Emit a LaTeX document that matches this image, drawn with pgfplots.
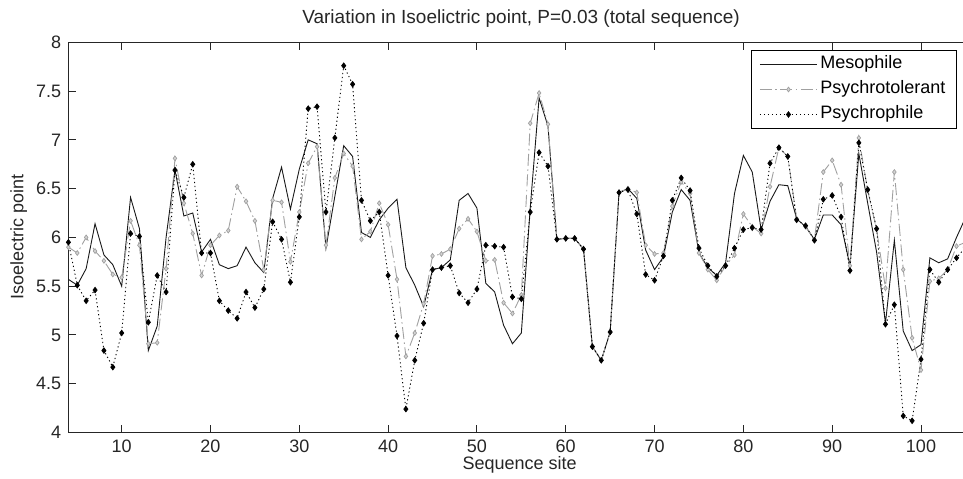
\documentclass[border=0pt]{standalone}
\usepackage{fontspec}
\setmainfont{Liberation Sans}
\usepackage{pgfplots}
\usepackage{pgfplotstable}
\pgfplotsset{compat=1.18}
\usetikzlibrary{calc}
\definecolor{axgray}{HTML}{262626}
\definecolor{tolgray}{HTML}{A0A0A0}
\newcommand{\chartfont}{\fontsize{18bp}{21bp}\selectfont}

% site, mesophile, psychrotolerant, psychrophile
\pgfplotstableread{
x meso tol phil
4 5.57 5.90 5.95
5 5.51 5.84 5.51
6 5.68 6.00 5.35
7 6.14 5.86 5.46
8 5.82 5.76 4.84
9 5.72 5.62 4.67
10 5.50 5.59 5.02
11 6.41 6.17 6.04
12 6.09 5.92 6.01
13 4.84 4.91 5.13
14 5.09 4.92 5.61
15 6.00 5.68 5.44
16 6.69 6.81 6.69
17 6.22 6.35 6.41
18 6.25 6.04 6.75
19 5.85 5.61 5.84
20 5.98 5.92 5.84
21 5.72 6.02 5.35
22 5.68 6.07 5.25
23 5.71 6.52 5.17
24 5.90 6.37 5.44
25 5.74 6.17 5.28
26 5.64 5.67 5.47
27 6.40 6.38 6.16
28 6.72 6.36 5.98
29 6.29 5.75 5.54
30 6.70 6.26 6.21
31 7.00 6.76 7.32
32 6.96 6.93 7.34
33 5.89 5.92 6.26
34 6.42 6.61 7.02
35 6.94 6.86 7.76
36 6.83 6.73 7.57
37 6.05 5.98 6.38
38 6.00 6.06 6.17
39 6.18 6.35 6.26
40 6.30 6.13 5.61
41 6.39 5.57 4.99
42 5.69 4.78 4.24
43 5.51 5.02 4.74
44 5.29 5.32 5.12
45 5.67 5.81 5.67
46 5.69 5.83 5.69
47 5.77 5.88 5.71
48 6.38 6.09 5.43
49 6.45 6.19 5.33
50 6.30 6.06 5.47
51 5.53 5.76 5.92
52 5.44 5.77 5.91
53 5.10 5.33 5.90
54 4.91 5.22 5.39
55 5.02 5.41 5.37
56 6.30 7.17 6.26
57 7.43 7.48 6.87
58 7.14 7.16 6.73
59 5.98 5.98 5.98
60 5.99 5.99 5.99
61 5.99 5.99 5.99
62 5.88 5.88 5.88
63 4.88 4.88 4.88
64 4.74 4.74 4.74
65 5.03 5.03 5.03
66 6.46 6.46 6.46
67 6.50 6.50 6.49
68 6.40 6.46 6.24
69 5.87 5.92 5.62
70 5.67 5.83 5.56
71 5.80 5.84 5.81
72 6.26 6.32 6.38
73 6.49 6.57 6.61
74 6.38 6.45 6.48
75 5.84 5.84 5.89
76 5.69 5.67 5.71
77 5.61 5.56 5.60
78 5.74 5.71 5.71
79 6.45 5.82 5.89
80 6.84 6.24 6.08
81 6.67 6.11 6.10
82 6.08 6.04 6.08
83 6.37 6.52 6.76
84 6.54 6.92 6.92
85 6.53 6.83 6.83
86 6.19 6.19 6.18
87 6.11 6.11 6.12
88 5.98 5.98 5.97
89 6.23 6.67 6.39
90 6.23 6.79 6.43
91 6.13 6.54 6.21
92 5.71 5.71 5.66
93 6.86 7.02 6.97
94 6.35 6.48 6.49
95 5.85 6.08 6.09
96 5.12 5.48 5.11
97 5.97 6.67 5.31
98 5.04 5.67 4.17
99 4.84 4.97 4.12
100 4.90 4.64 4.75
101 5.79 5.55 5.67
102 5.74 5.58 5.54
103 5.78 5.67 5.67
104 6.00 5.91 5.79
105 6.20 5.95 5.90
}\isodata

\begin{document}
\begin{tikzpicture}
\begin{axis}[
  name=ax,
  scale only axis,
  width=897bp, height=390.2bp,
  xmin=4, xmax=105, ymin=4, ymax=8,
  xtick={10,20,30,40,50,60,70,80,90,100},
  ytick={4,4.5,5,5.5,6,6.5,7,7.5,8},
  tick align=inside,
  major tick length=7.5bp,
  xtick pos=both,
  ytick pos=left,
  axis line style={axgray, line width=1bp},
  every tick/.style={axgray, line width=1bp},
  /pgf/number format/assume math mode=true,
  ticklabel style={font=\chartfont, text=axgray},
  xticklabel style={anchor=north, inner sep=0pt, yshift=-6.8bp},
  yticklabel style={anchor=east, inner sep=0pt, xshift=-7bp},
  title={Variation in Isoelictric point, P=0.03 (total sequence)},
  title style={at={(axis description cs:0.5046,1.0341)}, anchor=base, inner sep=0pt,
    font=\fontsize{19bp}{22bp}\selectfont, text=axgray},
  xlabel={Sequence site},
  xlabel style={at={(axis description cs:0.5030,-0.0960)}, anchor=base, inner sep=0pt, font=\chartfont, text=axgray},
  ylabel={Isoelectric point},
  ylabel style={at={(axis description cs:-0.0502,0.5)}, anchor=base, inner sep=0pt, font=\chartfont, text=axgray},
  legend image code/.code={
    \draw[mark repeat=2, mark phase=2, #1] plot coordinates {(0bp,0bp) (28.5bp,0bp) (57bp,0bp)};
  },
  legend cell align=left,
  legend style={at={(axis description cs:1,1)}, anchor=north east,
    xshift=-8.4bp, yshift=-7.7bp, draw=black, line width=1bp, fill=white,
    inner xsep=8bp, inner ysep=1.5bp, row sep=0bp, font=\chartfont,
    nodes={inner xsep=3bp, inner ysep=4bp, text height=13bp, text depth=4bp}},
]
\addplot[black!90, line width=0.9bp] table[x=x, y=meso] {\isodata};
\addplot[tolgray, line width=0.9bp, dash pattern=on 12bp off 3.5bp on 1.5bp off 3.5bp,
  mark=diamond*, mark size=2.4bp,
  mark options={solid, draw=tolgray, fill=tolgray!45, line width=0.7bp}] table[x=x, y=tol] {\isodata};
\addplot[black, line width=0.9bp, dash pattern=on 1.2bp off 2.8bp,
  mark=diamond*, mark size=2.8bp,
  mark options={solid, draw=black, fill=black, line width=0.7bp}] table[x=x, y=phil] {\isodata};
\legend{Mesophile, Psychrotolerant, Psychrophile}
\end{axis}
\pgfresetboundingbox
\path ($(ax.south west)+(-68.4bp,-46.5bp)$) rectangle ($(ax.north east)+(-2.4bp,42.3bp)$);
\end{tikzpicture}
\end{document}
